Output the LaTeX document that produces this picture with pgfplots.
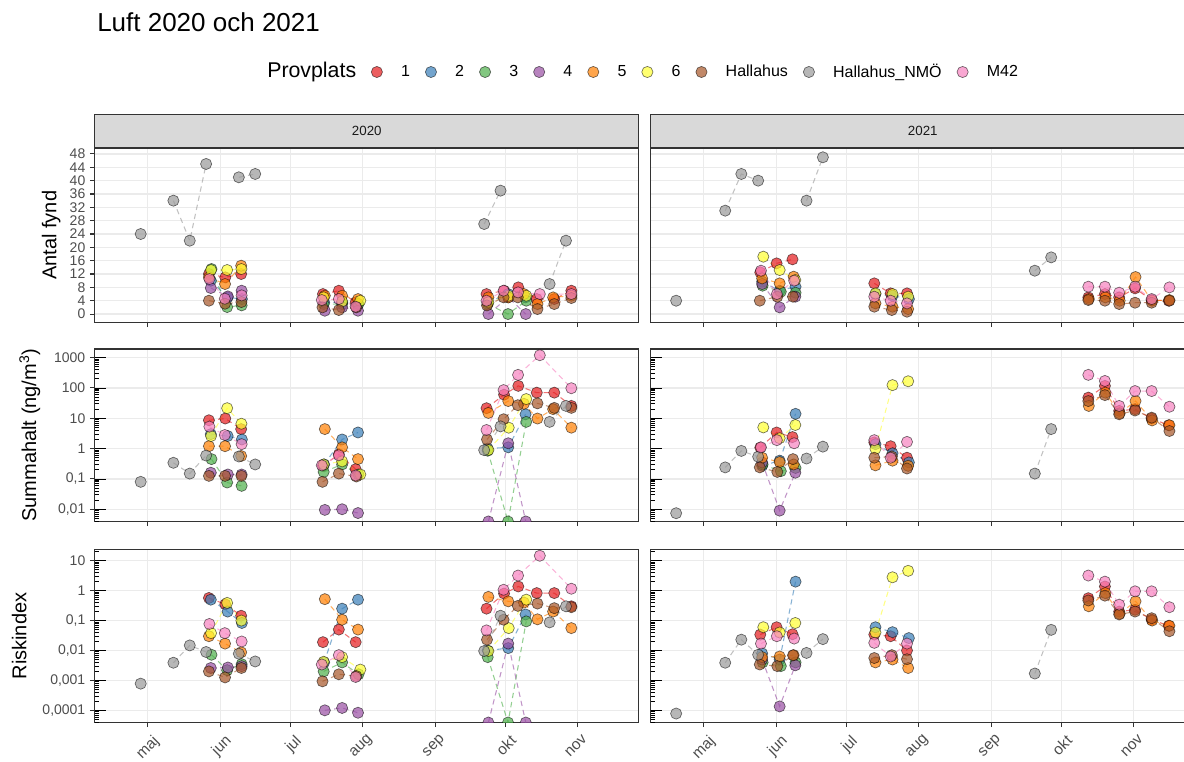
\documentclass[border=0pt]{standalone}
\usepackage{fontspec}
\setmainfont{Liberation Sans}
\usepackage{pgfplots}
\usepackage{pgfplotstable}
\pgfplotsset{compat=1.18}

\definecolor{c1}{HTML}{E41A1C}
\definecolor{c2}{HTML}{377EB8}
\definecolor{c3}{HTML}{4DAF4A}
\definecolor{c4}{HTML}{984EA3}
\definecolor{c5}{HTML}{FF7F00}
\definecolor{c6}{HTML}{FFFF33}
\definecolor{cH}{HTML}{A65628}
\definecolor{cN}{HTML}{999999}
\definecolor{cM}{HTML}{F781BF}
\definecolor{g20}{HTML}{333333}
\definecolor{g30}{HTML}{4D4D4D}
\definecolor{g85}{HTML}{D9D9D9}
\definecolor{g92}{HTML}{EBEBEB}

% x = days after 1 May; columns: 1,2,3,4,5,6,Hallahus,Hallahus_NMO,M42
\pgfplotstableread{
x1 y1 x2 y2 x3 y3 x4 y4 x5 y5 x6 y6 xH yH xN yN xM yM
26.2 12 27.0 10 27.3 13.5 27.0 7.8 26.2 11 27.1 13.2 26.2 4 -3 24 26.4 10.5
33.2 11 34.2 5 34.0 2.1 34.3 5.3 33.1 9 34.0 13.2 33.1 3.1 nan nan 33.0 4.6
40.0 12 40.3 4.5 40.2 2.6 40.2 7 40.0 14.5 40.1 13.5 40.1 3.6 11 34 40.2 5.6
nan nan nan nan nan nan nan nan nan nan nan nan nan nan 18 22 nan nan
75.0 6 75.5 3.5 75.3 3 75.8 1 75.8 5.5 75.3 5 74.8 2 25 45 74.5 4.2
81.8 7 83.2 3.5 83.2 3 83.2 2 83.2 5.5 83.2 3.8 81.8 1.2 nan nan 81.8 4.5
89.0 3.5 90.0 3 90.2 3 90.0 1 90.0 4.5 91.0 4 89.3 2 39 41 89.0 2.2
nan nan nan nan nan nan nan nan nan nan nan nan nan nan 46 42 nan nan
145.0 6 145.5 3.5 145.5 3 145.8 0 145.8 5 145.8 3.5 145.2 2.6 nan nan 145.0 4
152.5 7 154.3 6 154.2 0 154.3 5 154.3 5 154.5 5.5 152.3 5 144 27 152.3 7
158.6 8 161.7 5 162.0 4 161.8 0 161.0 6 162.0 5.5 158.4 5 151 37 158.5 6.5
166.5 4.5 nan nan nan nan nan nan 166.8 3 nan nan 166.8 1.5 nan nan 167.8 6
174.0 4.5 nan nan nan nan nan nan 173.5 5 nan nan 174.0 3 172 9 181.3 6
181.3 7 nan nan nan nan nan nan 181.3 5.5 nan nan 181.3 4.8 179 22 nan nan
}\TLa

\pgfplotstableread{
x1 y1 x2 y2 x3 y3 x4 y4 x5 y5 x6 y6 xH yH xN yN xM yM
26.2 8.6 27.0 3.0 27.3 0.45 27.0 0.16 26.2 1.2 27.1 2.6 26.2 0.126 -3 0.08 26.4 5.3
33.2 9.8 34.2 2.6 34.0 0.076 34.3 0.14 33.1 1.2 34.0 21.5 33.1 0.126 nan nan 33.0 2.8
40.0 4.4 40.3 2.0 40.2 0.059 40.2 0.14 40.0 0.57 40.1 6.6 40.1 0.126 11 0.34 40.2 1.4
nan nan nan nan nan nan nan nan nan nan nan nan nan nan 18 0.15 nan nan
75.0 0.27 75.5 0.3 75.3 0.17 75.8 0.0095 75.8 4.4 75.3 0.3 74.8 0.08 25 0.59 74.5 0.28
81.8 0.65 83.2 2.0 83.2 0.3 83.2 0.01 83.2 1.1 83.2 0.38 81.8 0.15 nan nan 81.8 0.6
89.0 0.21 90.0 3.4 90.2 0.14 90.0 0.0075 90.0 0.45 91.0 0.14 89.3 0.12 39 0.55 89.0 0.13
nan nan nan nan nan nan nan nan nan nan nan nan nan nan 46 0.30 nan nan
145.0 21.5 145.5 1.0 145.5 0.85 145.8 0.003954 145.8 15 145.8 0.9 145.2 2.0 nan nan 145.0 4.1
152.5 60 154.3 1.1 154.2 0.003954 154.3 1.5 154.3 37 154.5 4.9 152.3 9.3 144 0.89 152.3 85
158.6 117 161.7 13.5 162.0 7.6 161.8 0.003954 161.0 30 162.0 43 158.4 27 151 5.4 158.5 270
166.5 70 nan nan nan nan nan nan 166.8 9.8 nan nan 166.8 31 nan nan 167.8 1200
174.0 70 nan nan nan nan nan nan 173.5 20 nan nan 174.0 22 172 7.6 181.3 98
181.3 25.6 nan nan nan nan nan nan 181.3 4.9 nan nan 181.3 22 179 25.6 nan nan
}\TLb

\pgfplotstableread{
x1 y1 x2 y2 x3 y3 x4 y4 x5 y5 x6 y6 xH yH xN yN xM yM
26.2 0.57 27.0 0.5 27.3 0.0072 27.0 0.0026 26.2 0.03 27.1 0.038 26.2 0.002 -3 0.00078 26.4 0.077
33.2 0.35 34.2 0.2 34.0 0.0022 34.3 0.0027 33.1 0.017 34.0 0.39 33.1 0.00126 nan nan 33.0 0.038
40.0 0.145 40.3 0.083 40.2 0.0035 40.2 0.003 40.0 0.0087 40.1 0.1 40.1 0.0026 11 0.0039 40.2 0.02
nan nan nan nan nan nan nan nan nan nan nan nan nan nan 18 0.0148 nan nan
75.0 0.019 75.5 0.004 75.3 0.002 75.8 0.0001 75.8 0.52 75.3 0.0042 74.8 0.00093 25 0.0089 74.5 0.0034
81.8 0.05 83.2 0.25 83.2 0.004 83.2 0.00012 83.2 0.107 83.2 0.006 81.8 0.0016 nan nan 81.8 0.007
89.0 0.019 90.0 0.5 90.2 0.0016 90.0 0.000083 90.0 0.05 91.0 0.0023 89.3 0.0014 39 0.0078 89.0 0.0013
nan nan nan nan nan nan nan nan nan nan nan nan nan nan 46 0.0043 nan nan
145.0 0.25 145.5 0.01 145.5 0.006 145.8 0.0000391 145.8 0.62 145.8 0.0096 145.2 0.023 nan nan 145.0 0.047
152.5 0.8 154.3 0.012 154.2 0.0000391 154.3 0.017 154.3 0.44 154.5 0.056 152.3 0.107 144 0.0096 152.3 1.07
158.6 1.38 161.7 0.16 162.0 0.094 161.8 0.0000391 161.0 0.4 162.0 0.5 158.4 0.31 151 0.145 158.5 3.2
166.5 0.83 nan nan nan nan nan nan 166.8 0.11 nan nan 166.8 0.37 nan nan 167.8 14.7
174.0 0.83 nan nan nan nan nan nan 173.5 0.2 nan nan 174.0 0.26 172 0.087 181.3 1.16
181.3 0.30 nan nan nan nan nan nan 181.3 0.056 nan nan 181.3 0.28 179 0.30 nan nan
}\TLc

\pgfplotstableread{
x1 y1 x2 y2 x3 y3 x4 y4 x5 y5 x6 y6 xH yH xN yN xM yM
24.2 12.5 25.0 9.7 25.2 8.5 25.0 9 25.0 10.7 25.5 17.2 24.0 4 -11.8 4 24.5 13
31.2 15.2 32.5 7 33.0 6.7 32.5 2 32.5 9.2 32.5 13.2 31.5 5.2 nan nan 31.3 6
38.0 16.4 39.3 8.2 39.3 6.4 39.2 5.2 38.5 11.2 39.2 10.2 38.2 5.2 9.2 31 38.7 10
nan nan nan nan nan nan nan nan nan nan nan nan nan nan 16.1 42 nan nan
73.0 9.2 73.5 6 nan nan nan nan 73.5 3.2 73.5 6.2 73.0 2.2 23.3 40 73.0 5.2
80.0 6.2 80.8 5.5 nan nan nan nan 80.8 2.2 80.8 6 80.5 1.2 nan nan 80.0 4
87.0 6.2 87.8 4.5 nan nan nan nan 87.5 1.5 87.5 5.2 87.0 0.7 44 34 87.0 3.2
nan nan nan nan nan nan nan nan nan nan nan nan nan nan 51 47 nan nan
164.6 5 nan nan nan nan nan nan 164.8 4.5 nan nan 164.6 4.2 nan nan 164.6 8.2
171.7 6 nan nan nan nan nan nan 171.9 5 nan nan 171.7 4 141.7 13 171.7 8.2
177.8 5 nan nan nan nan nan nan 178.0 4 nan nan 177.8 3 148.7 17 177.8 6.4
184.6 7.7 nan nan nan nan nan nan 184.8 11.1 nan nan 184.6 3.4 nan nan 184.6 8.2
191.7 4.2 nan nan nan nan nan nan 191.9 4 nan nan 191.7 3.4 nan nan 191.7 4.5
199.0 4 nan nan nan nan nan nan 199.3 4.2 nan nan 199.3 4 nan nan 199.3 8
}\TRa

\pgfplotstableread{
x1 y1 x2 y2 x3 y3 x4 y4 x5 y5 x6 y6 xH yH xN yN xM yM
24.2 1.08 25.0 0.27 25.2 0.3 25.0 0.35 25.0 0.5 25.5 5.0 24.0 0.24 -11.8 0.0074 24.5 1.1
31.2 3.4 32.5 0.4 33.0 0.18 32.5 0.009 32.5 0.36 32.5 2.2 31.5 0.17 nan nan 31.3 1.9
38.0 2.4 39.3 14 39.3 0.23 39.2 0.16 38.5 0.3 39.2 6.0 38.2 0.45 9.2 0.24 38.7 1.5
nan nan nan nan nan nan nan nan nan nan nan nan nan nan 16.1 0.84 nan nan
73.0 1.6 73.5 1.4 nan nan nan nan 73.5 0.28 73.5 0.98 73.0 0.5 23.3 0.54 73.0 1.9
80.0 1.2 80.8 0.7 nan nan nan nan 80.8 0.4 80.8 124 80.5 0.55 nan nan 80.0 0.5
87.0 0.5 87.8 0.35 nan nan nan nan 87.5 0.27 87.5 166 87.0 0.22 44 0.47 87.0 1.66
nan nan nan nan nan nan nan nan nan nan nan nan nan nan 51 1.16 nan nan
164.6 48 nan nan nan nan nan nan 164.8 25.5 nan nan 164.6 37 nan nan 164.6 270
171.7 117 nan nan nan nan nan nan 171.9 70 nan nan 171.7 58 141.7 0.15 171.7 170
177.8 17.5 nan nan nan nan nan nan 178.0 14.6 nan nan 177.8 13.5 148.7 4.4 177.8 25.5
184.6 20 nan nan nan nan nan nan 184.8 37 nan nan 184.6 18 nan nan 184.6 79
191.7 9.8 nan nan nan nan nan nan 191.9 8.5 nan nan 191.7 10.5 nan nan 191.7 79
199.0 5.9 nan nan nan nan nan nan 199.3 5.9 nan nan 199.3 3.8 nan nan 199.3 24
}\TRb

\pgfplotstableread{
x1 y1 x2 y2 x3 y3 x4 y4 x5 y5 x6 y6 xH yH xN yN xM yM
24.2 0.034 25.0 0.008 25.2 0.004 25.0 0.005 25.0 0.006 25.5 0.06 24.0 0.0034 -11.8 0.000078 24.5 0.017
31.2 0.06 32.5 0.005 33.0 0.003 32.5 0.000135 32.5 0.0063 32.5 0.04 31.5 0.003 nan nan 31.3 0.03
38.0 0.035 39.3 2.0 39.3 0.004 39.2 0.0032 38.5 0.007 39.2 0.083 38.2 0.0069 9.2 0.0039 38.7 0.025
nan nan nan nan nan nan nan nan nan nan nan nan nan nan 16.1 0.023 nan nan
73.0 0.034 73.5 0.06 nan nan nan nan 73.5 0.004 73.5 0.04 73.0 0.0056 23.3 0.0072 73.0 0.018
80.0 0.03 80.8 0.041 nan nan nan nan 80.8 0.005 80.8 2.8 80.5 0.007 nan nan 80.0 0.0063
87.0 0.01 87.8 0.026 nan nan nan nan 87.5 0.0026 87.5 4.6 87.0 0.0051 44 0.0083 87.0 0.017
nan nan nan nan nan nan nan nan nan nan nan nan nan nan 51 0.024 nan nan
164.6 0.56 nan nan nan nan nan nan 164.8 0.3 nan nan 164.6 0.47 nan nan 164.6 3.2
171.7 1.38 nan nan nan nan nan nan 171.9 0.83 nan nan 171.7 0.68 141.7 0.0017 171.7 2.0
177.8 0.2 nan nan nan nan nan nan 178.0 0.17 nan nan 177.8 0.16 148.7 0.049 177.8 0.34
184.6 0.23 nan nan nan nan nan nan 184.8 0.44 nan nan 184.6 0.2 nan nan 184.6 0.95
191.7 0.107 nan nan nan nan nan nan 191.9 0.1 nan nan 191.7 0.12 nan nan 191.7 0.95
199.0 0.067 nan nan nan nan nan nan 199.3 0.067 nan nan 199.3 0.044 nan nan 199.3 0.28
}\TRc

\pgfplotsset{
  ln/.style={forget plot, no markers, draw=#1, line width=0.8pt, dash pattern=on 4pt off 3pt, opacity=0.6},
  mk/.style={forget plot, only marks, mark=*, mark size=4.2pt,
     mark options={solid, fill=#1, fill opacity=0.7, draw=black, draw opacity=0.55, line width=0.5pt}},
  lg/.style={only marks, mark=*, mark size=4.2pt,
     mark options={solid, fill=#1, fill opacity=0.7, draw=black, draw opacity=0.55, line width=0.5pt}},
  panel/.style={
    scale only axis, width=408.15pt, anchor=south west,
    xmin=-22.7, xmax=210.2,
    xtick={0,31,61,92,123,153,184}, xticklabels={},
    xtick pos=bottom, ytick pos=left,
    tick align=outside, major tick length=3.5pt, minor tick length=0pt,
    tick style={draw=g20, line width=0.8pt},
    axis line style={draw=g20, line width=0.9pt},
    xmajorgrids, ymajorgrids,
    major grid style={draw=g92, line width=0.9pt},
    clip marker paths=true,
    unbounded coords=jump,
    tick label style={font=\fontsize{10.5}{12}\selectfont, text=g30},
    ylabel style={font=\fontsize{15}{18}\selectfont, text=black},
  },
  bottomx/.style={xticklabels={maj,jun,jul,aug,sep,okt,nov},
    xticklabel style={font=\fontsize{11.5}{13}\selectfont, xshift=3pt, rotate=45, anchor=north east}},
  strip/.style={title={#1},
    every axis title/.style={at={(0.5,1)}, anchor=south, minimum width=408.15pt,
      minimum height=24.75pt, inner sep=0pt, fill=g85, draw=g20, line width=0.75pt,
      font=\fontsize{10}{12}\selectfont, text=black!90}},
  rightp/.style={yticklabels={}, ytick style={draw=none}},
  lt/.style={scale only axis, width=408.15pt, anchor=south west, xmin=-22.7, xmax=210.2,
    axis x line=none, axis y line*=left, axis line style={draw=none},
    xtick=\empty, yticklabels={}, tick align=inside,
    major tick length=8.5pt, minor tick length=3.5pt,
    tick style={draw=black, line width=0.6pt}},
}
\def\minB{4e-3,5e-3,6e-3,7e-3,8e-3,9e-3,2e-2,3e-2,4e-2,5e-2,6e-2,7e-2,8e-2,9e-2,0.2,0.3,0.4,0.5,0.6,0.7,0.8,0.9,2,3,4,5,6,7,8,9,20,30,40,50,60,70,80,90,200,300,400,500,600,700,800,900}
\def\minC{4e-5,5e-5,6e-5,7e-5,8e-5,9e-5,2e-4,3e-4,4e-4,5e-4,6e-4,7e-4,8e-4,9e-4,2e-3,3e-3,4e-3,5e-3,6e-3,7e-3,8e-3,9e-3,2e-2,3e-2,4e-2,5e-2,6e-2,7e-2,8e-2,9e-2,0.2,0.3,0.4,0.5,0.6,0.7,0.8,0.9,2,3,4,5,6,7,8,9,20}

\newcommand\drawpanel[1]{%
  \addplot[ln=c1] table[x=x1,y=y1]{#1};
  \addplot[ln=c2] table[x=x2,y=y2]{#1};
  \addplot[ln=c3] table[x=x3,y=y3]{#1};
  \addplot[ln=c4] table[x=x4,y=y4]{#1};
  \addplot[ln=c5] table[x=x5,y=y5]{#1};
  \addplot[ln=c6] table[x=x6,y=y6]{#1};
  \addplot[ln=cH] table[x=xH,y=yH]{#1};
  \addplot[ln=cN] table[x=xN,y=yN]{#1};
  \addplot[ln=cM] table[x=xM,y=yM]{#1};
  \addplot[mk=c1] table[x=x1,y=y1]{#1};
  \addplot[mk=c2] table[x=x2,y=y2]{#1};
  \addplot[mk=c3] table[x=x3,y=y3]{#1};
  \addplot[mk=c4] table[x=x4,y=y4]{#1};
  \addplot[mk=c5] table[x=x5,y=y5]{#1};
  \addplot[mk=c6] table[x=x6,y=y6]{#1};
  \addplot[mk=cH] table[x=xH,y=yH]{#1};
  \addplot[mk=cN] table[x=xN,y=yN]{#1};
  \addplot[mk=cM] table[x=xM,y=yM]{#1};
}

\begin{document}
\begin{tikzpicture}
\useasboundingbox (0pt,0pt) rectangle (888pt,571.5pt);
\clip (0pt,0pt) rectangle (888pt,571.5pt);
\node[anchor=west, inner sep=0pt, font=\fontsize{19.5}{23}\selectfont] at (72.75pt,555pt) {Luft 2020 och 2021};
\node[anchor=west, inner sep=0pt, font=\fontsize{16}{19}\selectfont] at (200.25pt,517.5pt) {Provplats};

% ---------- row 1 ----------
\begin{axis}[panel, height=130.9pt, ymin=-2.54, ymax=49.79, ytick={0,4,...,48},
  at={(71pt,329.6pt)}, ylabel={Antal fynd},
  /pgf/number format/assume math mode=true, strip={2020},
  legend columns=9, legend cell align=left,
  legend style={draw=none, fill=none, inner sep=0pt,
    at={(axis description cs:0.5078,1.4354)}, anchor=west,
    font=\fontsize{12}{14}\selectfont,
    /tikz/every odd column/.append style={column sep=12pt},
    /tikz/every even column/.append style={column sep=9.5pt}}]
\drawpanel{\TLa}
\addlegendimage{lg=c1}\addlegendentry{1}
\addlegendimage{lg=c2}\addlegendentry{2}
\addlegendimage{lg=c3}\addlegendentry{3}
\addlegendimage{lg=c4}\addlegendentry{4}
\addlegendimage{lg=c5}\addlegendentry{5}
\addlegendimage{lg=c6}\addlegendentry{6}
\addlegendimage{lg=cH}\addlegendentry{Hallahus}
\addlegendimage{lg=cN}\addlegendentry{Hallahus\_NMÖ}
\addlegendimage{lg=cM}\addlegendentry{M42}
\end{axis}
\begin{axis}[panel, height=130.9pt, ymin=-2.54, ymax=49.79, ytick={0,4,...,48},
  rightp, at={(488pt,329.6pt)}, strip={2021}]
\drawpanel{\TRa}
\end{axis}

% ---------- row 2 ----------
\begin{axis}[ymode=log, panel, height=129.4pt, ymin=0.003954, ymax=1936,
  ytick={0.01,0.1,1,10,100,1000},
  at={(71pt,180.4pt)}, ylabel={Summahalt (ng/m\textsuperscript{3})}, ylabel shift=3.5pt,
  yticklabels={{0,01},{0,1},1,10,100,1000}]
\drawpanel{\TLb}
\end{axis}
\begin{axis}[ymode=log, lt, height=129.4pt, ymin=0.003954, ymax=1936,
  ytick={0.01,0.1,1,10,100,1000}, minor ytick/.expand once={\minB}, at={(71pt,180.4pt)}]
\end{axis}
\begin{axis}[ymode=log, panel, height=129.4pt, ymin=0.003954, ymax=1936,
  ytick={0.01,0.1,1,10,100,1000}, rightp, at={(488pt,180.4pt)}]
\drawpanel{\TRb}
\end{axis}
\begin{axis}[ymode=log, lt, height=129.4pt, ymin=0.003954, ymax=1936,
  ytick={0.01,0.1,1,10,100,1000}, minor ytick/.expand once={\minB}, at={(488pt,180.4pt)}]
\end{axis}

% ---------- row 3 ----------
\begin{axis}[ymode=log, panel, height=129.75pt, ymin=0.0000391, ymax=23.7,
  ytick={0.0001,0.001,0.01,0.1,1,10},
  at={(71pt,29.6pt)}, ylabel={Riskindex}, ylabel shift=5pt,
  yticklabels={{0,0001},{0,001},{0,01},{0,1},1,10}, bottomx]
\drawpanel{\TLc}
\end{axis}
\begin{axis}[ymode=log, lt, height=129.75pt, ymin=0.0000391, ymax=23.7,
  ytick={0.0001,0.001,0.01,0.1,1,10}, minor ytick/.expand once={\minC}, at={(71pt,29.6pt)}]
\end{axis}
\begin{axis}[ymode=log, panel, height=129.75pt, ymin=0.0000391, ymax=23.7,
  ytick={0.0001,0.001,0.01,0.1,1,10}, rightp, at={(488pt,29.6pt)}, bottomx]
\drawpanel{\TRc}
\end{axis}
\begin{axis}[ymode=log, lt, height=129.75pt, ymin=0.0000391, ymax=23.7,
  ytick={0.0001,0.001,0.01,0.1,1,10}, minor ytick/.expand once={\minC}, at={(488pt,29.6pt)}]
\end{axis}
\end{tikzpicture}
\end{document}
